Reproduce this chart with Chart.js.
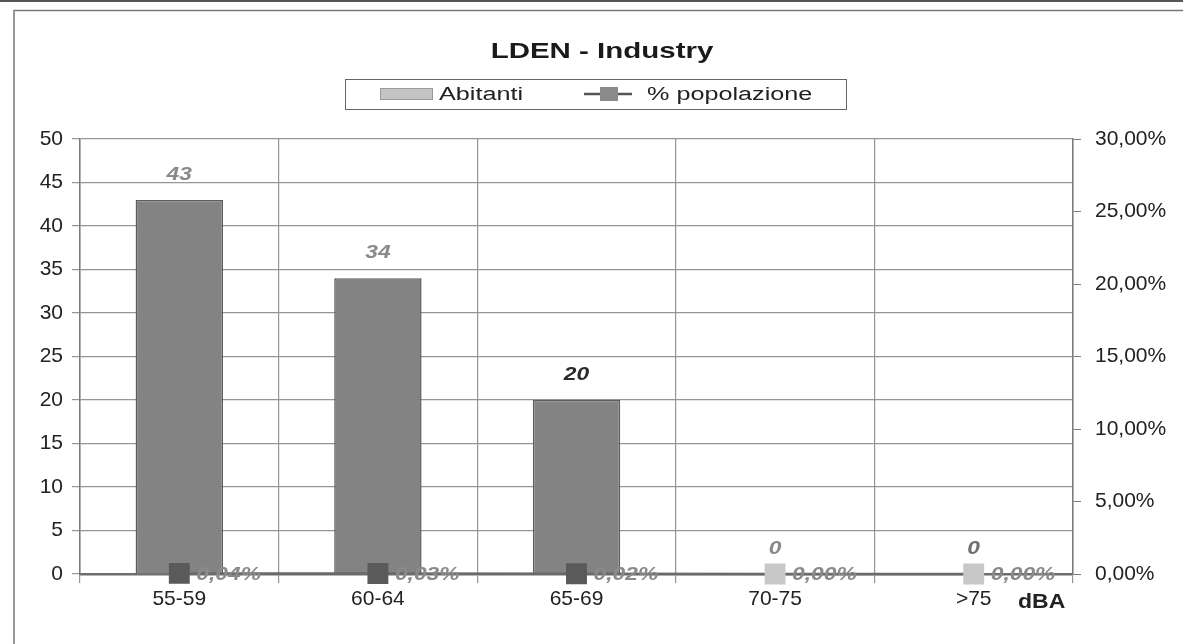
<!DOCTYPE html>
<html>
<head>
<meta charset="utf-8">
<script src="https://cdn.jsdelivr.net/npm/chart.js@4.4.1/dist/chart.umd.min.js"></script>
<style>
  html, body { margin: 0; padding: 0; background: #fff; }
  #wrap { width: 1183px; height: 644px; position: relative; }
</style>
</head>
<body>
<div id="wrap"><canvas id="chart" width="1183" height="644"></canvas></div>
<script>
const categories = ["55-59", "60-64", "65-69", "70-75", ">75"];
const abitanti = [43, 34, 20, 0, 0];
const percPopolazione = [0.04, 0.03, 0.02, 0.00, 0.00];
const leftTicks = [0, 5, 10, 15, 20, 25, 30, 35, 40, 45, 50];
const rightTicks = [0, 5, 10, 15, 20, 25, 30];

const FONT = "'Liberation Sans', Arial, sans-serif";
const pct = v => v.toFixed(2).replace('.', ',') + '%';

// marker and value-label colours, as they came out on the scan
const markerColors = ["#5a5a5a", "#5a5a5a", "#5a5a5a", "#c8c8c8", "#c8c8c8"];
const barLabelColors = ["#8a8a8a", "#8a8a8a", "#2a2a2a", "#8a8a8a", "#707070"];

// text drawn a little wider than the font, like the scanned original
function wideText(ctx, text, x, y, sx, align) {
  ctx.save();
  ctx.translate(x, y);
  ctx.scale(sx, 1);
  ctx.textAlign = align || 'left';
  ctx.fillText(text, 0, 0);
  ctx.restore();
}

const decorations = {
  id: 'decorations',
  beforeDraw(chart) {
    const ctx = chart.ctx;
    ctx.save();
    ctx.fillStyle = '#fff';
    ctx.fillRect(0, 0, chart.width, chart.height);
    ctx.fillStyle = '#555';
    ctx.fillRect(0, 0, chart.width, 2);
    ctx.strokeStyle = '#777';
    ctx.lineWidth = 1.5;
    ctx.beginPath();
    ctx.moveTo(14, chart.height);
    ctx.lineTo(14, 10.5);
    ctx.lineTo(chart.width, 10.5);
    ctx.stroke();

    // title
    ctx.fillStyle = '#1a1a1a';
    ctx.textBaseline = 'middle';
    ctx.font = "bold 22px " + FONT;
    wideText(ctx, 'LDEN - Industry', 602, 52, 1.34, 'center');

    // legend
    ctx.strokeStyle = '#666';
    ctx.lineWidth = 1;
    ctx.strokeRect(345.5, 79.5, 501, 30);
    ctx.fillStyle = '#c4c4c4';
    ctx.fillRect(380, 88, 53, 12);
    ctx.strokeStyle = '#9a9a9a';
    ctx.strokeRect(380.5, 88.5, 52, 11);
    ctx.strokeStyle = '#555';
    ctx.lineWidth = 2.5;
    ctx.beginPath();
    ctx.moveTo(584, 94);
    ctx.lineTo(632, 94);
    ctx.stroke();
    ctx.fillStyle = '#8a8a8a';
    ctx.fillRect(600, 87, 18, 14);
    ctx.fillStyle = '#222';
    ctx.font = "18px " + FONT;
    wideText(ctx, 'Abitanti', 439, 95, 1.4);
    wideText(ctx, '% popolazione', 647, 95, 1.4);
    ctx.restore();
  },
  afterDatasetsDraw(chart) {
    const ctx = chart.ctx;
    ctx.save();
    ctx.textBaseline = 'middle';
    ctx.font = "italic bold 19px " + FONT;
    chart.getDatasetMeta(0).data.forEach((bar, i) => {
      ctx.fillStyle = barLabelColors[i];
      wideText(ctx, String(abitanti[i]), bar.x, bar.y - 25, 1.2, 'center');
    });
    chart.getDatasetMeta(1).data.forEach((pt, i) => {
      ctx.fillStyle = '#8a8a8a';
      wideText(ctx, pct(percPopolazione[i]), pt.x + 17, pt.y + 1, 1.2, 'left');
    });
    // axis title at the end of the category axis
    const x = chart.scales.x;
    ctx.fillStyle = '#222';
    ctx.font = "bold 20px " + FONT;
    wideText(ctx, 'dBA', 1018, x.top + 28, 1.15, 'left');
    ctx.restore();
  }
};

new Chart(document.getElementById('chart'), {
  data: {
    labels: categories,
    datasets: [
      {
        type: 'bar',
        label: 'Abitanti',
        data: abitanti,
        yAxisID: 'y',
        backgroundColor: '#838383',
        borderColor: '#5c5c5c',
        borderWidth: 1.5,
        barPercentage: 0.44,
        categoryPercentage: 1,
        order: 2
      },
      {
        type: 'line',
        label: '% popolazione',
        data: percPopolazione,
        yAxisID: 'y1',
        borderColor: '#6a6a6a',
        borderWidth: 2.5,
        pointStyle: 'rect',
        pointRadius: 13,
        pointBackgroundColor: markerColors,
        pointBorderColor: markerColors,
        clip: false,
        order: 1
      }
    ]
  },
  options: {
    responsive: false,
    animation: false,
    layout: { padding: { top: 139, left: 0, right: 0, bottom: 0 } },
    plugins: {
      title: { display: false },
      legend: { display: false },
      tooltip: { enabled: false }
    },
    scales: {
      x: {
        grid: { color: '#959595', lineWidth: 1.2, offset: true, tickLength: 9 },
        border: { color: '#6e6e6e', width: 2.5 },
        ticks: { color: '#222', font: { family: FONT, size: 21 }, padding: 4, maxRotation: 0 },
        afterFit(scale) { scale.height = 70; }
      },
      y: {
        position: 'left',
        min: 0,
        max: 50,
        afterBuildTicks(scale) { scale.ticks = leftTicks.map(v => ({ value: v })); },
        grid: { color: '#959595', lineWidth: 1.2, tickLength: 8 },
        border: { color: '#7a7a7a', width: 1.5 },
        ticks: { color: '#222', font: { family: FONT, size: 21 }, padding: 9 },
        afterFit(scale) { scale.width = 80; }
      },
      y1: {
        position: 'right',
        min: 0,
        max: 30,
        afterBuildTicks(scale) { scale.ticks = rightTicks.map(v => ({ value: v })); },
        grid: { drawOnChartArea: false, color: '#7a7a7a', tickLength: 8 },
        border: { color: '#7a7a7a', width: 1.5 },
        ticks: { color: '#222', font: { family: FONT, size: 21 }, padding: 14, callback: v => pct(v) },
        afterFit(scale) { scale.width = 110; }
      }
    }
  },
  plugins: [decorations]
});
</script>
</body>
</html>
